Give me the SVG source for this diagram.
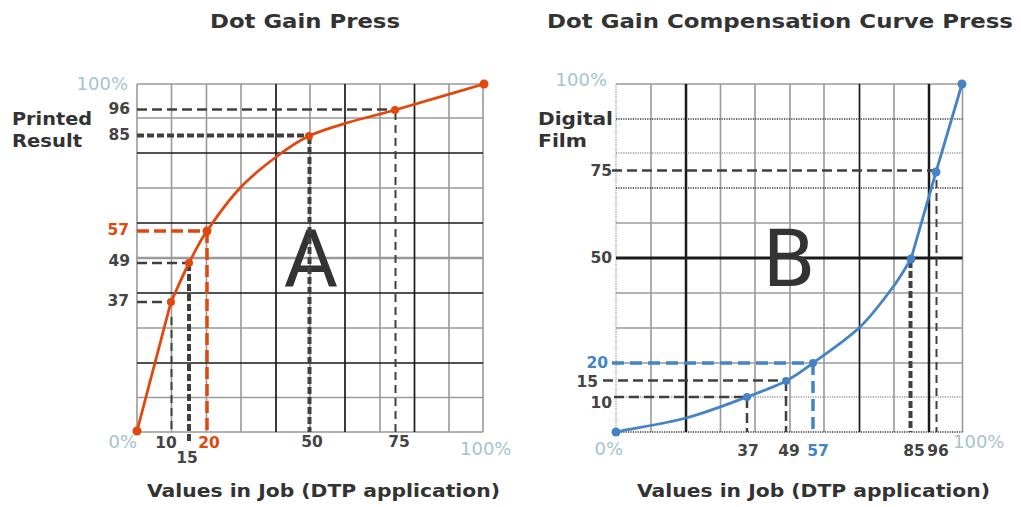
<svg xmlns="http://www.w3.org/2000/svg" width="1021" height="507" viewBox="0 0 1021 507">
<style>
text{font-family:"DejaVu Sans","Verdana",sans-serif;}
.title{font-size:19px;font-weight:bold;fill:#333;}
.axis{font-size:17px;font-weight:bold;fill:#333;}
.ylab{font-size:17px;font-weight:bold;fill:#333;}
.num{font-size:15.5px;font-weight:bold;fill:#444;}
.pct{font-size:18px;fill:#a6c3ce;}
.big{font-size:78px;fill:#333;}
.g{stroke:#9a9a9a;stroke-width:1.6;fill:none;}
.k{stroke:#1a1a1a;stroke-width:1.7;fill:none;}
.dk{stroke:#333;stroke-width:1.5;stroke-dasharray:1.2 1.2;fill:none;}
.dl{stroke:#999;stroke-width:1.3;stroke-dasharray:1.2 1.2;fill:none;}
.d1{stroke:#404040;stroke-width:2.5;stroke-dasharray:10 5;fill:none;}
.d2{stroke:#404040;stroke-width:4;stroke-dasharray:7 3;fill:none;}
.d3{stroke:#404040;stroke-width:2;stroke-dasharray:8 5;fill:none;}
.do{stroke:#e2470e;stroke-width:3.5;stroke-dasharray:12 5;fill:none;}
.db{stroke:#4484c6;stroke-width:3.5;stroke-dasharray:12 6;fill:none;}
.co{stroke:#e2470e;stroke-width:2.8;fill:none;}
.cb{stroke:#4484c6;stroke-width:2.8;fill:none;}
.mo{fill:#e2470e;}
.mb{fill:#4484c6;}
</style>

<g id="left-chart">
  <g id="left-grid">
    <path class="g" d="M171.5 84V432M206.5 84V432M241 84V432M310 84V432M380 84V432M449 84V432M137 84V432M483 84V432"/>
    <path class="g" d="M137 84H483M137 118H483M137 188H483M137 328H483M137 397.5H483M137 432H483"/>
    <path class="g" style="stroke-width:2.5" d="M137 258H483"/>
    <path class="k" d="M276 84V432M345 84V432M414.5 84V432"/>
    <path class="k" d="M137 153H483M137 223H483M137 293H483M137 363H483"/>
  </g>
  <text class="big" x="311" y="287" text-anchor="middle">A</text>
  <g id="left-guides">
    <path class="d1" d="M137 109.5H395"/>
    <path class="d3" d="M395.5 112V432"/>
    <path class="d2" d="M137 135.5H309"/>
    <path class="d2" d="M309.5 137V432"/>
    <path class="do" d="M137 231H207"/>
    <path class="do" d="M207 231V432"/>
    <path class="d1" d="M137 263H189"/>
    <path class="d2" d="M189 264V444"/>
    <path class="d1" d="M137 302H171"/>
    <path class="d3" d="M171.5 317V432"/>
  </g>
  <g id="left-curve">
    <path class="co" d="M137 431L171 302C177 289 183 274.8 189 263C195 251.2 198.5 243.5 207 231C215.5 218.5 228.5 200.3 240 188C251.5 175.7 264.5 165.7 276 157C287.5 148.3 296.7 141.8 309 136C321.3 130.2 335.7 126.3 350 122C364.3 117.7 372.7 116.3 395 110C417.3 103.7 454.3 92.7 484 84"/>
    <circle class="mo" cx="137" cy="431" r="4.5"/>
    <circle class="mo" cx="171" cy="302" r="4"/>
    <circle class="mo" cx="189" cy="263" r="4"/>
    <circle class="mo" cx="207" cy="231" r="4.5"/>
    <circle class="mo" cx="309" cy="136" r="4"/>
    <circle class="mo" cx="395" cy="110" r="4"/>
    <circle class="mo" cx="484" cy="84" r="4.5"/>
  </g>
  <g id="left-labels">
    <text class="title" x="210" y="28" textLength="190" lengthAdjust="spacingAndGlyphs">Dot Gain Press</text>
    <text class="ylab" x="12" y="125" textLength="80" lengthAdjust="spacingAndGlyphs">Printed</text>
    <text class="ylab" x="12" y="147" textLength="70" lengthAdjust="spacingAndGlyphs">Result</text>
    <text class="pct" x="128" y="90" text-anchor="end">100%</text>
    <text class="num" x="130" y="114" text-anchor="end">96</text>
    <text class="num" x="130" y="140" text-anchor="end">85</text>
    <text class="num" x="129" y="235" text-anchor="end" style="fill:#e2470e">57</text>
    <text class="num" x="130" y="266" text-anchor="end">49</text>
    <text class="num" x="129" y="306" text-anchor="end">37</text>
    <text class="pct" x="137" y="448" text-anchor="end">0%</text>
    <text class="num" x="166" y="448" text-anchor="middle">10</text>
    <text class="num" x="187" y="463" text-anchor="middle">15</text>
    <text class="num" x="209" y="448" text-anchor="middle" style="fill:#e2470e">20</text>
    <text class="num" x="312" y="447" text-anchor="middle">50</text>
    <text class="num" x="399" y="447" text-anchor="middle">75</text>
    <text class="pct" x="460" y="455">100%</text>
    <text class="axis" x="147" y="497" textLength="353" lengthAdjust="spacingAndGlyphs">Values in Job (DTP application)</text>
  </g>
</g>

<g id="right-chart">
  <g id="right-grid">
    <path class="g" d="M651 84V432M720.5 84V432M755 84V432M790 84V432M824 84V432M894 84V432M962.5 84V432"/>
    <path class="g" d="M616 84H962.5M616 223H962.5M616 293H962.5M616 328H962.5M616 363H962.5"/>
    <path class="dl" d="M616 84V432M616 153H962.5M616 397H962.5"/>
    <path class="dk" d="M616 119H962.5M616 188H962.5M616 432H962.5"/>
    <path class="k" style="stroke-width:2.5" d="M686 84V432M929 84V432"/>
    <path class="k" d="M859.5 84V432"/>
    <path class="k" style="stroke-width:3" d="M616 258H962.5"/>
  </g>
  <text class="big" x="789" y="286" text-anchor="middle">B</text>
  <g id="right-guides">
    <path class="d1" d="M612 170.5H936"/>
    <path class="d3" d="M936.5 180V432"/>
    <path class="d2" d="M910.5 261V432"/>
    <path class="db" d="M612 363H813"/>
    <path class="db" d="M813 363V432"/>
    <path class="d1" d="M603 380.5H786"/>
    <path class="d1" d="M786 381V432"/>
    <path class="d1" d="M614 397H747"/>
    <path class="d1" d="M747 398V432"/>
  </g>
  <g id="right-curve">
    <path class="cb" d="M616 432C639.3 427.3 664.2 423.8 686 418C707.8 412.2 730.3 403.2 747 397C763.7 390.8 775 386.7 786 381C797 375.3 800.7 372 813 363C825.3 354 846.7 339.7 860 327C873.3 314.3 884.5 298.3 893 287C901.5 275.7 905 268.3 911 259L936 172L962 84"/>
    <circle class="mb" cx="616" cy="432" r="4.5"/>
    <circle class="mb" cx="747" cy="397" r="4"/>
    <circle class="mb" cx="786" cy="381" r="4"/>
    <circle class="mb" cx="813" cy="363" r="4"/>
    <circle class="mb" cx="911" cy="259" r="4.5"/>
    <circle class="mb" cx="936" cy="172" r="4.5"/>
    <circle class="mb" cx="962" cy="84" r="4.5"/>
  </g>
  <g id="right-labels">
    <text class="title" x="547" y="28" textLength="466" lengthAdjust="spacingAndGlyphs">Dot Gain Compensation Curve Press</text>
    <text class="ylab" x="538" y="125" textLength="75" lengthAdjust="spacingAndGlyphs">Digital</text>
    <text class="ylab" x="538" y="147" textLength="49" lengthAdjust="spacingAndGlyphs">Film</text>
    <text class="pct" x="607" y="86" text-anchor="end">100%</text>
    <text class="num" x="612" y="176" text-anchor="end">75</text>
    <text class="num" x="612" y="263" text-anchor="end">50</text>
    <text class="num" x="608" y="368" text-anchor="end" style="fill:#4484c6">20</text>
    <text class="num" x="598" y="387" text-anchor="end">15</text>
    <text class="num" x="612" y="408" text-anchor="end">10</text>
    <text class="pct" x="623" y="455" text-anchor="end">0%</text>
    <text class="num" x="748" y="456" text-anchor="middle">37</text>
    <text class="num" x="789" y="456" text-anchor="middle">49</text>
    <text class="num" x="818" y="456" text-anchor="middle" style="fill:#4484c6">57</text>
    <text class="num" x="914" y="456" text-anchor="middle">85</text>
    <text class="num" x="938" y="456" text-anchor="middle">96</text>
    <text class="pct" x="953" y="448">100%</text>
    <text class="axis" x="637" y="497" textLength="353" lengthAdjust="spacingAndGlyphs">Values in Job (DTP application)</text>
  </g>
</g>
</svg>
